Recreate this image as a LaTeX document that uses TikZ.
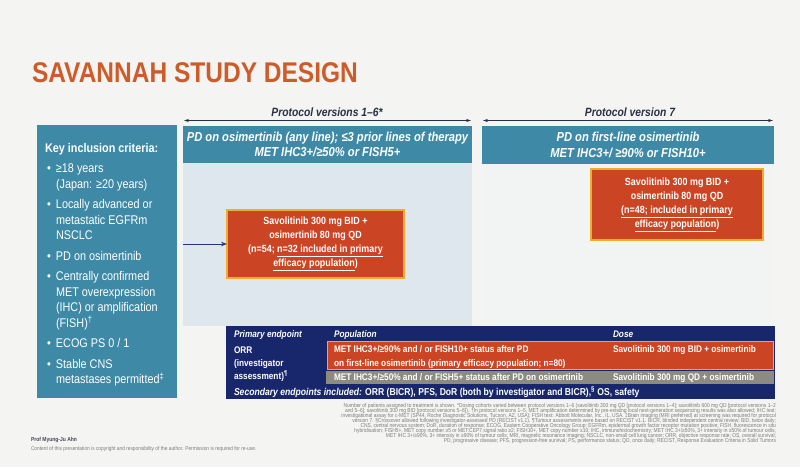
\documentclass[tikz,border=0pt]{standalone}
\usepackage{fontspec}
\setmainfont{Liberation Sans}[FakeStretch=0.86]
\usetikzlibrary{arrows.meta}
\definecolor{bgc}{RGB}{244,244,242}
\definecolor{titleor}{RGB}{205,92,42}
\definecolor{tealc}{RGB}{62,137,166}
\definecolor{lightp}{RGB}{221,231,237}
\definecolor{panetwo}{RGB}{242,243,243}
\definecolor{boxred}{RGB}{203,68,36}
\definecolor{boxyel}{RGB}{242,172,45}
\definecolor{navyc}{RGB}{24,38,108}
\definecolor{arrnavy}{RGB}{35,55,120}
\definecolor{grayrow}{RGB}{140,139,130}
\definecolor{labc}{RGB}{40,48,68}
\definecolor{footc}{RGB}{125,125,125}
\definecolor{authc}{RGB}{70,72,85}
\begin{document}
\begin{tikzpicture}[x=1pt,y=-1pt,
  every node/.style={inner sep=0pt, outer sep=0pt},
  panel/.style={fill=tealc, draw=none, anchor=north west},
  barbox/.style={fill=tealc, draw=none, anchor=north west, text=white, align=center,
    font=\fontsize{13}{15.5}\selectfont\bfseries\itshape},
  redbox/.style={fill=boxred, draw=boxyel, line width=2.5pt, text=white, align=center,
    font=\fontsize{10.4}{14}\selectfont\bfseries},
  protlab/.style={font=\fontsize{12}{14}\selectfont\bfseries\itshape, text=labc},
  protarrow/.style={{Stealth[length=5pt,width=3.2pt]}-{Stealth[length=5pt,width=3.2pt]}, line width=0.8pt, draw=labc},
  tabhead/.style={anchor=base west, text=white, font=\fontsize{9.6}{12}\selectfont\bfseries\itshape},
  tabtxt/.style={anchor=base west, text=white, font=\fontsize{9.6}{12}\selectfont\bfseries},
  foot/.style={anchor=base east, text=footc, font=\fontsize{5.7}{6}\selectfont}
]
\fill[bgc] (0,0) rectangle (800,467);
\useasboundingbox (0,0) rectangle (800,467);

% title
\node[anchor=base west, font=\fontsize{28.5}{30}\selectfont\bfseries, text=titleor] (title) at (32,82) {SAVANNAH STUDY DESIGN};

% protocol labels and arrows
\node[protlab] (plab1) at (327,112) {Protocol versions 1–6*};
\coordinate (p1l) at (184,120.5);
\coordinate (p1r) at (471,120.5);
\draw[protarrow] (p1l) -- (p1r);
\node[protlab] (plab2) at (630,112) {Protocol version 7};
\coordinate (p2l) at (483,120.5);
\coordinate (p2r) at (773,120.5);
\draw[protarrow] (p2l) -- (p2r);

% left criteria panel
\node[panel, minimum width=140pt, minimum height=273pt] (crit) at (37,125) {};
\node[anchor=north west, align=left, text=white, font=\fontsize{12.6}{15.5}\selectfont] (crittext) at (45,143)
{\textbf{Key inclusion criteria:}\\[5pt]
\hspace*{2pt}\makebox[9pt][l]{•}≥18 years\\
\hspace*{11pt}(Japan: ≥20 years)\\[5pt]
\hspace*{2pt}\makebox[9pt][l]{•}Locally advanced or\\
\hspace*{11pt}metastatic EGFRm\\
\hspace*{11pt}NSCLC\\[5pt]
\hspace*{2pt}\makebox[9pt][l]{•}PD on osimertinib\\[5pt]
\hspace*{2pt}\makebox[9pt][l]{•}Centrally confirmed\\
\hspace*{11pt}MET overexpression\\
\hspace*{11pt}(IHC) or amplification\\
\hspace*{11pt}(FISH)\textsuperscript{†}\\[5pt]
\hspace*{2pt}\makebox[9pt][l]{•}ECOG PS 0 / 1\\[5pt]
\hspace*{2pt}\makebox[9pt][l]{•}Stable CNS\\
\hspace*{11pt}metastases permitted\textsuperscript{‡}};

% background panes
\node[anchor=north west, fill=lightp, minimum width=289pt, minimum height=163pt] (light1) at (183,163) {};
\node[anchor=north west, fill=panetwo, minimum width=292pt, minimum height=162pt] (light2) at (482,164) {};

% header bars
\node[barbox, minimum width=289pt, minimum height=37pt] (bar1) at (183,126)
{PD on osimertinib (any line); ≤3 prior lines of therapy\\MET IHC3+/≥50\% or FISH5+};
\node[barbox, minimum width=292pt, minimum height=38pt] (bar2) at (482,126)
{PD on first-line osimertinib\\MET IHC3+/ ≥90\% or FISH10+};

% treatment boxes
\node[redbox, minimum width=177pt, minimum height=68pt] (box1) at (315.5,244)
{Savolitinib 300 mg BID +\\osimertinib 80 mg QD\\(n=54; \underline{n=32 included in primary}\\\underline{efficacy population})};
\node[redbox, minimum width=172pt, minimum height=71pt] (box2) at (677,204.5)
{Savolitinib 300 mg BID +\\osimertinib 80 mg QD\\\underline{(n=48; included in primary}\\\underline{efficacy population})};

\draw[arrnavy, line width=1pt, -{Stealth[length=6pt,width=4.5pt]}] (light1.west |- box1.west) -- (box1.west);

% endpoint table
\node[anchor=north west, fill=navyc, minimum width=549pt, minimum height=73pt] (tbl) at (226,326) {};
\node[anchor=north west, fill=boxred, draw=boxyel, line width=1.8pt, minimum width=446pt, minimum height=28pt] (row1) at (327.5,341.5) {};
\node[anchor=north west, fill=grayrow, minimum width=448pt, minimum height=12.5pt] (row2) at (326,371) {};

\node[tabhead] (hpe) at (234,337.5) {Primary endpoint};
\node[tabhead] (hpop) at (334,337.5) {Population};
\node[tabhead] (hdose) at (613,337.5) {Dose};

\node[tabtxt] (orr1) at (234,353) {ORR};
\node[tabtxt] (orr2) at (234,366) {(investigator};
\node[tabtxt] (orr3) at (234,379) {assessment)\textsuperscript{¶}};

\node[tabtxt] (r1a) at (334,352.5) {MET IHC3+/≥90\% and / or FISH10+ status after PD};
\node[tabtxt] (r1b) at (334,366) {on first-line osimertinib (\underline{primary efficacy population}; n=80)};
\node[tabtxt] (r1d) at (613,352.5) {Savolitinib 300 mg BID + osimertinib};

\node[tabtxt] (r2a) at (334,380.5) {MET IHC3+/≥50\% and / or FISH5+ status after PD on osimertinib};
\node[tabtxt] (r2d) at (613,380.5) {Savolitinib 300 mg QD + osimertinib};

\node[tabtxt, font=\fontsize{10}{12}\selectfont\bfseries] (sec) at (234,395) {\textit{Secondary endpoints included:} ORR (BICR), PFS, DoR (both by investigator and BICR),\textsuperscript{§} OS, safety};

% footnote (right aligned lines)
\node[foot] (fn1) at (776,407.5) {Number of patients assigned to treatment is shown. *Dosing cohorts varied between protocol versions 1–6 (savolitinib 300 mg QD [protocol versions 1–4]; savolitinib 600 mg QD [protocol versions 1–2};
\node[foot] (fn2) at (776,412.5) {and 5–6]; savolitinib 300 mg BID [protocol versions 5–6]). †In protocol versions 1–5, MET amplification determined by pre-existing local next-generation sequencing results was also allowed; IHC test:};
\node[foot] (fn3) at (776,417.5) {investigational assay for c-MET (SP44, Roche Diagnostic Solutions, Tucson, AZ, USA); FISH test: Abbott Molecular, Inc., IL, USA. ‡Brain imaging (MRI preferred) at screening was required for protocol};
\node[foot] (fn4) at (776,422.5) {version 7. §Crossover allowed following investigator-assessed PD (RECIST v1.1). ¶Tumour assessments were based on RECIST v1.1. BICR, blinded independent central review; BID, twice daily;};
\node[foot] (fn5) at (776,427.5) {CNS, central nervous system; DoR, duration of response; ECOG, Eastern Cooperative Oncology Group; EGFRm, epidermal growth factor receptor mutation positive; FISH, fluorescence in situ};
\node[foot] (fn6) at (776,432.5) {hybridisation; FISH5+, MET copy number ≥5 or MET:CEP7 signal ratio ≥2; FISH10+, MET copy number ≥10; IHC, immunohistochemistry; MET IHC 3+/≥50\%, 3+ intensity in ≥50\% of tumour cells;};
\node[foot] (fn7) at (776,437.5) {MET IHC 3+/≥90\%, 3+ intensity in ≥90\% of tumour cells; MRI, magnetic resonance imaging; NSCLC, non-small cell lung cancer; ORR, objective response rate; OS, overall survival;};
\node[foot] (fn8) at (776,442.5) {PD, progressive disease; PFS, progression-free survival; PS, performance status; QD, once daily; RECIST, Response Evaluation Criteria in Solid Tumors};

% credits
\node[anchor=base west, font=\fontsize{5.8}{7}\selectfont\bfseries, text=authc] (auth) at (31,441) {Prof Myung-Ju Ahn};
\node[anchor=base west, font=\fontsize{5.6}{7}\selectfont, text=footc] (copy) at (31,450) {Content of this presentation is copyright and responsibility of the author. Permission is required for re-use.};
\end{tikzpicture}
\end{document}
